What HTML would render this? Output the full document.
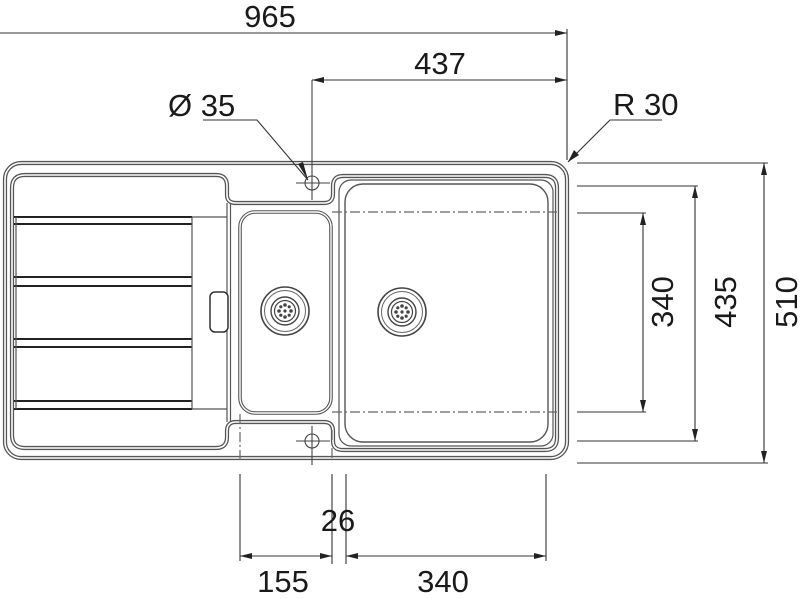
<!DOCTYPE html>
<html><head><meta charset="utf-8"><style>
html,body{margin:0;padding:0;background:#fff;width:800px;height:598px;overflow:hidden}
svg{display:block}
text{font-family:"Liberation Sans",sans-serif;fill:#1a1a1a}
</style></head><body>
<svg width="800" height="598" viewBox="0 0 800 598" xmlns="http://www.w3.org/2000/svg">
<defs>
<marker id="a" viewBox="0 0 12 6" refX="12" refY="3" markerWidth="12" markerHeight="6" orient="auto-start-reverse" markerUnits="userSpaceOnUse"><path d="M0,0 L12,3 L0,6 Z" fill="#222"/></marker>
<g id="drain">
<circle r="24" fill="none" stroke="#444" stroke-width="1.6"/>
<circle r="20.5" fill="none" stroke="#666" stroke-width="1"/>
<circle r="14" fill="none" stroke="#444" stroke-width="1.4"/>
<circle r="10.5" fill="none" stroke="#444" stroke-width="1.2"/>
<g fill="#444"><circle cx="0" cy="-6" r="1.8"/><circle cx="0" cy="6" r="1.8"/><circle cx="-6" cy="0" r="1.8"/><circle cx="6" cy="0" r="1.8"/><circle cx="-4.2" cy="-4.2" r="1.6"/><circle cx="4.2" cy="-4.2" r="1.6"/><circle cx="-4.2" cy="4.2" r="1.6"/><circle cx="4.2" cy="4.2" r="1.6"/><circle r="1.6"/></g>
</g>
</defs>

<rect x="5" y="163" width="562" height="295" rx="16" fill="none" stroke="#555" stroke-width="4.2"/>
<rect x="5" y="163" width="562" height="295" rx="16" fill="none" stroke="#fff" stroke-width="1.6"/>

<path d="M25,175 H216 Q227,175 227,186 V195 Q227,203 236,203 H324 Q333,203 333,194 V186 Q333,176 343,176 H545 Q557,176 557,188 V438 Q557,450 545,450 H343 Q333,450 333,441 V431 Q333,422 324,422 H236 Q227,422 227,431 V437 Q227,448 216,448 H25 Q12,448 12,435 V188 Q12,175 25,175 Z" fill="none" stroke="#555" stroke-width="4.2"/>
<path d="M25,175 H216 Q227,175 227,186 V195 Q227,203 236,203 H324 Q333,203 333,194 V186 Q333,176 343,176 H545 Q557,176 557,188 V438 Q557,450 545,450 H343 Q333,450 333,441 V431 Q333,422 324,422 H236 Q227,422 227,431 V437 Q227,448 216,448 H25 Q12,448 12,435 V188 Q12,175 25,175 Z" fill="none" stroke="#fff" stroke-width="1.6"/>
<rect x="339" y="180" width="214" height="266" rx="12" fill="none" stroke="#555" stroke-width="1.2"/>
<rect x="345" y="184" width="203" height="258" rx="18" fill="none" stroke="#555" stroke-width="1.4"/>
<line x1="227" y1="203" x2="227" y2="422" stroke="#555" stroke-width="1.2"/>
<line x1="230.5" y1="203" x2="230.5" y2="422" stroke="#555" stroke-width="1.2"/>
<rect x="210" y="292" width="18" height="40" rx="5" fill="#fff" stroke="#333" stroke-width="1.5"/>
<g stroke="#222" stroke-width="1.9">
<line x1="14" y1="217" x2="192" y2="217"/><line x1="14" y1="224" x2="192" y2="224"/>
<line x1="14" y1="277" x2="192" y2="277"/><line x1="14" y1="286" x2="192" y2="286"/>
<line x1="14" y1="339" x2="192" y2="339"/><line x1="14" y1="347" x2="192" y2="347"/>
<line x1="14" y1="401" x2="192" y2="401"/><line x1="14" y1="409" x2="192" y2="409"/>
</g>
<g stroke="#555" stroke-width="1.2">
<line x1="192" y1="217" x2="192" y2="409"/>
<line x1="192" y1="217" x2="227" y2="217"/><line x1="192" y1="409" x2="227" y2="409"/>
<line x1="16" y1="217" x2="16" y2="409"/>
</g>
<rect x="240" y="212" width="91" height="201" rx="15" fill="none" stroke="#555" stroke-width="3.6"/>
<rect x="240" y="212" width="91" height="201" rx="15" fill="none" stroke="#fff" stroke-width="1.4"/>
<use href="#drain" x="285" y="311"/>
<use href="#drain" x="402" y="312"/>
<g stroke="#666" stroke-width="1.2" stroke-dasharray="10,3,2,3" fill="none">
<line x1="332" y1="212" x2="557" y2="212"/>
<line x1="332" y1="412" x2="557" y2="412"/>
<line x1="240" y1="414" x2="240" y2="460"/>
<line x1="332" y1="430" x2="332" y2="460"/>
</g>
<g stroke="#444" stroke-width="1.1" fill="none">
<circle cx="312" cy="183" r="7"/>
<circle cx="312" cy="441" r="7"/>
<line x1="296" y1="183" x2="330" y2="183"/>
<line x1="296" y1="441" x2="330" y2="441"/>
<line x1="312" y1="80" x2="312" y2="200"/>
<line x1="312" y1="426" x2="312" y2="465"/>
</g>

<g stroke="#333" stroke-width="1.1" fill="none">
<line x1="0" y1="33" x2="567" y2="33" marker-end="url(#a)"/>
<line x1="567" y1="29" x2="567" y2="160"/>
<line x1="312" y1="80" x2="567" y2="80" marker-start="url(#a)" marker-end="url(#a)"/>
<polyline points="203,120 257,120 308,180"/>
<polyline points="662,120 610,120 568,162"/>
<line x1="577" y1="163" x2="768" y2="163"/>
<line x1="577" y1="186" x2="698" y2="186"/>
<line x1="577" y1="213" x2="646" y2="213"/>
<line x1="577" y1="412" x2="646" y2="412"/>
<line x1="577" y1="441" x2="698" y2="441"/>
<line x1="577" y1="463" x2="768" y2="463"/>
<line x1="764" y1="163" x2="764" y2="463" marker-start="url(#a)" marker-end="url(#a)"/>
<line x1="695" y1="186" x2="695" y2="441" marker-start="url(#a)" marker-end="url(#a)"/>
<line x1="643" y1="213" x2="643" y2="412" marker-start="url(#a)" marker-end="url(#a)"/>
<line x1="240" y1="474" x2="240" y2="561"/>
<line x1="332" y1="474" x2="332" y2="564"/>
<line x1="346" y1="474" x2="346" y2="564"/>
<line x1="546" y1="474" x2="546" y2="561"/>
<line x1="240" y1="556" x2="332" y2="556" marker-start="url(#a)" marker-end="url(#a)"/>
<line x1="346" y1="556" x2="546" y2="556" marker-start="url(#a)" marker-end="url(#a)"/>
</g>
<path d="M308,180 L298,164 L303,162 Z" fill="#222"/>
<path d="M568,162 L574,150 L579,155 Z" fill="#222"/>

<g font-size="31">
<text x="270" y="27" text-anchor="middle">965</text>
<text x="440" y="74" text-anchor="middle">437</text>
<text x="168" y="116">Ø 35</text>
<text x="613" y="115">R 30</text>
<text x="338" y="531" text-anchor="middle">26</text>
<text x="283" y="592" text-anchor="middle">155</text>
<text x="443" y="592" text-anchor="middle">340</text>
<text transform="translate(673,302) rotate(-90)" text-anchor="middle">340</text>
<text transform="translate(736,302) rotate(-90)" text-anchor="middle">435</text>
<text transform="translate(797,302) rotate(-90)" text-anchor="middle">510</text>
</g>
</svg>
</body></html>
